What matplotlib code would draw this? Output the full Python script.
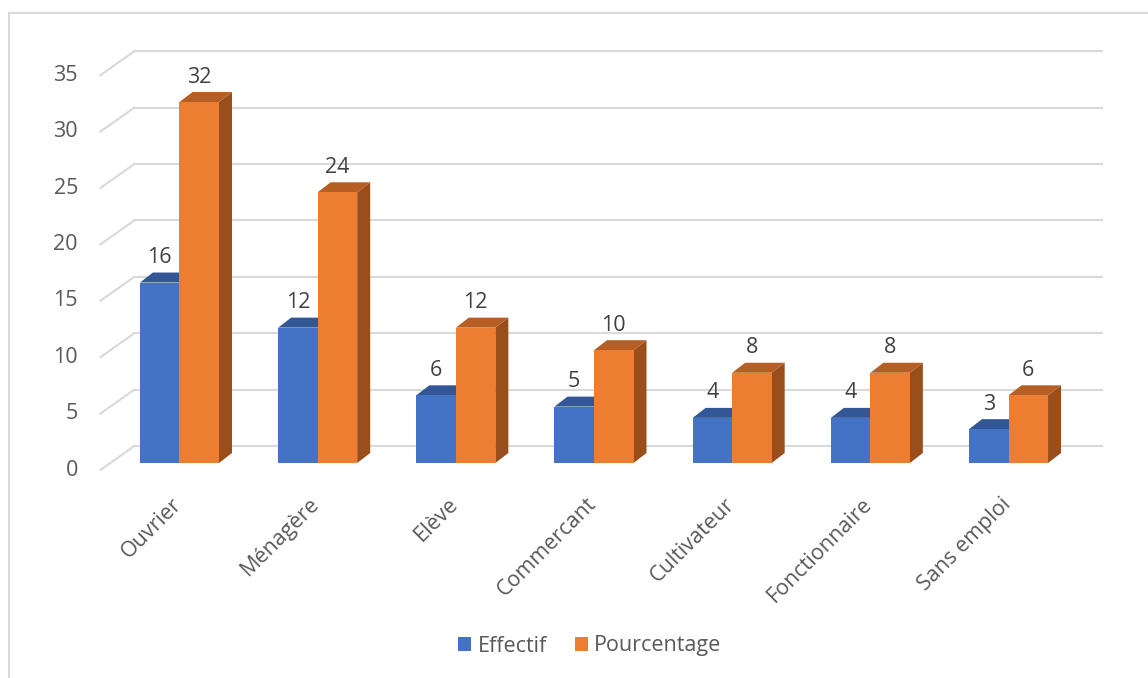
import matplotlib.pyplot as plt
from matplotlib.patches import Polygon, Patch, Rectangle

# données du graphique
categories = ["Ouvrier", "Ménagère", "Elève", "Commercant", "Cultivateur", "Fonctionnaire", "Sans emploi"]
effectif = [16, 12, 6, 5, 4, 4, 3]
pourcentage = [32, 24, 12, 10, 8, 8, 6]
series_names = ["Effectif", "Pourcentage"]
yticks = [0, 5, 10, 15, 20, 25, 30, 35]

# couleurs des faces (avant, dessus, côté)
c_front = ["#4472C4", "#ED7D31"]
c_top = ["#335795", "#B65E23"]
c_side = ["#2F4F88", "#9A4E1C"]
grid_col = "#D9D9D9"
txt_col = "#595959"

plt.rcParams['font.family'] = ['Open Sans', 'DejaVu Sans']
fs = 15.5

W, H = 1148, 678
fig = plt.figure(figsize=(W / 100, H / 100), dpi=100)
ax = fig.add_axes([110.4 / W, (H - 463) / H, 967.2 / W, 394.8 / H])
ax.set_xlim(-0.5, 6.5)
ax.set_ylim(0, 35)
ax.axis("off")

# pixels par unité de données
p0 = ax.transData.transform((0, 0))
p1 = ax.transData.transform((1, 1))
sx, sy = p1[0] - p0[0], p1[1] - p0[1]

def px(dx, dy):
    return dx / sx, dy / sy

# quadrillage du mur du fond + diagonales du plancher
wx, wy = px(24, 17)
fx, fy = px(-10, -7)
for v in yticks:
    ax.plot([-0.5 + wx, 6.5 + wx], [v + wy, v + wy], color=grid_col, lw=1.5, zorder=1, clip_on=False)
    ax.plot([-0.5 + fx, -0.5 + wx], [v + fy, v + wy], color=grid_col, lw=1.5, zorder=1, clip_on=False)
    ax.text(-0.5 + (78 - 110.4) / sx, v + fy, str(v), ha="right", va="center",
            fontsize=fs, color=txt_col)

# barres en 3D (face avant, dessus, côté)
w = 0.286
bx, by = px(13, 10)
z = 2
for s, vals in enumerate([effectif, pourcentage]):
    for i, h in enumerate(vals):
        x0 = i - w + s * w
        ax.add_patch(Polygon([(x0 + w, 0), (x0 + w + bx, by), (x0 + w + bx, h + by), (x0 + w, h)],
                             closed=True, facecolor=c_side[s], edgecolor="none", zorder=z, clip_on=False))
        ax.add_patch(Polygon([(x0, h), (x0 + w, h), (x0 + w + bx, h + by), (x0 + bx, h + by)],
                             closed=True, facecolor=c_top[s], edgecolor="none", zorder=z, clip_on=False))
        ax.bar(x0, h, width=w, align="edge", color=c_front[s], zorder=z + 0.5, clip_on=False)
        ax.text(x0 + w / 2, h + 25 / sy, str(h), ha="center", va="center",
                fontsize=fs, color="#404040", zorder=5)
    z += 1

# étiquettes des catégories
for i, cat in enumerate(categories):
    ax.text(i - 1 / sx, -38 / sy, cat, rotation=45, ha="right", va="center", rotation_mode="anchor",
            fontsize=fs, color=txt_col)

# cadre
fig.add_artist(Rectangle((8.5 / W, -0.1), 1.2, 1.1 - 13 / H, transform=fig.transFigure,
                         fill=False, edgecolor=grid_col, lw=1.5))

handles = [Patch(facecolor=c_front[k], label=series_names[k]) for k in range(2)]
fig.legend(handles=handles, loc="center", bbox_to_anchor=(590 / W, 1 - 646 / H), ncol=2,
           frameon=False, handlelength=0.6, handleheight=0.6, handletextpad=0.3,
           columnspacing=1.3, fontsize=fs, labelcolor=txt_col)

fig.savefig("out.png", dpi=100)
